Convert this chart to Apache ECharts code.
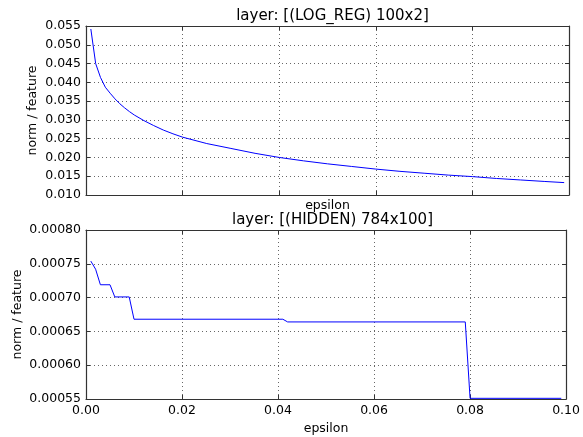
<!DOCTYPE html>
<html>
<head>
<meta charset="utf-8">
<script src="https://cdn.jsdelivr.net/npm/echarts@6/dist/echarts.min.js"></script>
<style>
  html, body { margin: 0; padding: 0; background: #fff; }
  #chart { width: 583px; height: 437px; }
</style>
</head>
<body>
<div id="chart"></div>
<script>
// Norm per feature versus epsilon for two network layers.
const logRegTitle = 'layer: [(LOG_REG) 100x2]';
const hiddenTitle = 'layer: [(HIDDEN) 784x100]';

// LOG_REG layer: smooth decreasing curve
const logRegEps  = [0.001, 0.002, 0.003, 0.004, 0.005, 0.006, 0.007, 0.008, 0.009, 0.010,
                    0.012, 0.014, 0.016, 0.018, 0.020, 0.025, 0.030, 0.035, 0.040, 0.045,
                    0.050, 0.055, 0.060, 0.065, 0.070, 0.075, 0.080, 0.085, 0.090, 0.095, 0.099];
const logRegNorm = [0.0542, 0.0450, 0.0413, 0.0387, 0.0371, 0.0356, 0.0343, 0.0332, 0.0322, 0.0313,
                    0.0298, 0.0285, 0.0273, 0.0263, 0.0254, 0.0237, 0.0224, 0.0211, 0.0200, 0.0191,
                    0.0183, 0.0176, 0.0169, 0.0163, 0.0158, 0.0153, 0.0149, 0.0144, 0.0140, 0.0136, 0.0133];

// HIDDEN layer: stepwise decreasing values
const hiddenEps  = [0.001, 0.0014, 0.002, 0.003, 0.005, 0.006, 0.009, 0.010, 0.041, 0.042, 0.079, 0.080, 0.099];
const hiddenNorm = [0.000754, 0.000752, 0.000742, 0.000719, 0.000719, 0.000701, 0.000701, 0.000668, 0.000668, 0.000664, 0.000664, 0.000551, 0.000551];

const xTicks = { min: 0, max: 0.1, interval: 0.02 };
const topY = { min: 0.010, max: 0.055, interval: 0.005 };
const botY = { min: 0.00055, max: 0.00080, interval: 0.00005 };

const FONT = 'DejaVu Sans';
const frame = { show: true, onZero: false, lineStyle: { color: '#333', width: 1.2 } };
const tickIn = { show: true, inside: true, length: 4, lineStyle: { color: '#333', width: 1 } };
const gridLine = { show: true, lineStyle: { color: '#000', width: 0.6, type: [1, 3] } };
const labelStyle = { color: '#000', fontFamily: FONT, fontSize: 12.5 };

function pairs(xs, ys) { return xs.map((x, i) => [x, ys[i]]); }

const chart = echarts.init(document.getElementById('chart'), null, { renderer: 'canvas' });

chart.setOption({
  backgroundColor: '#fff',
  animation: false,
  title: [
    { text: logRegTitle, left: 327.5, top: 4, textAlign: 'center',
      textStyle: { fontFamily: FONT, fontSize: 15, fontWeight: 'normal', color: '#000' } },
    { text: hiddenTitle, left: 327.5, top: 208, textAlign: 'center',
      textStyle: { fontFamily: FONT, fontSize: 15, fontWeight: 'normal', color: '#000' } }
  ],
  grid: [
    { left: 86, top: 26, width: 483, height: 169 },
    { left: 86, top: 230, width: 483, height: 169 }
  ],
  xAxis: [
    { type: 'value', gridIndex: 0, position: 'bottom', ...xTicks,
      name: 'epsilon', nameLocation: 'middle', nameGap: 4, nameMoveOverlap: false,
      nameTextStyle: { ...labelStyle, verticalAlign: 'top' },
      axisLine: frame, axisTick: tickIn, axisLabel: { show: false }, splitLine: gridLine },
    { type: 'value', gridIndex: 0, position: 'top', ...xTicks,
      axisLine: frame, axisTick: tickIn, axisLabel: { show: false }, splitLine: { show: false } },
    { type: 'value', gridIndex: 1, position: 'bottom', ...xTicks,
      name: 'epsilon', nameLocation: 'middle', nameGap: 23, nameMoveOverlap: false,
      nameTextStyle: { ...labelStyle, verticalAlign: 'top' },
      axisLine: frame, axisTick: tickIn,
      axisLabel: { ...labelStyle, margin: 5, formatter: v => v.toFixed(2) },
      splitLine: gridLine },
    { type: 'value', gridIndex: 1, position: 'top', ...xTicks,
      axisLine: frame, axisTick: tickIn, axisLabel: { show: false }, splitLine: { show: false } }
  ],
  yAxis: [
    { type: 'value', gridIndex: 0, position: 'left', ...topY,
      name: 'norm / feature', nameLocation: 'middle', nameGap: 47, nameMoveOverlap: false,
      nameTextStyle: labelStyle,
      axisLine: frame, axisTick: tickIn,
      axisLabel: { ...labelStyle, margin: 5, formatter: v => v.toFixed(3) },
      splitLine: gridLine },
    { type: 'value', gridIndex: 0, position: 'right', ...topY,
      axisLine: frame, axisTick: tickIn, axisLabel: { show: false }, splitLine: { show: false } },
    { type: 'value', gridIndex: 1, position: 'left', ...botY,
      name: 'norm / feature', nameLocation: 'middle', nameGap: 62, nameMoveOverlap: false,
      nameTextStyle: labelStyle,
      axisLine: frame, axisTick: tickIn,
      axisLabel: { ...labelStyle, margin: 5, formatter: v => v.toFixed(5) },
      splitLine: gridLine },
    { type: 'value', gridIndex: 1, position: 'right', ...botY,
      axisLine: frame, axisTick: tickIn, axisLabel: { show: false }, splitLine: { show: false } }
  ],
  series: [
    { type: 'line', xAxisIndex: 0, yAxisIndex: 0, data: pairs(logRegEps, logRegNorm),
      showSymbol: false, lineStyle: { color: '#0000ff', width: 1 } },
    { type: 'line', xAxisIndex: 2, yAxisIndex: 2, data: pairs(hiddenEps, hiddenNorm),
      showSymbol: false, lineStyle: { color: '#0000ff', width: 1 } }
  ]
});
</script>
</body>
</html>
